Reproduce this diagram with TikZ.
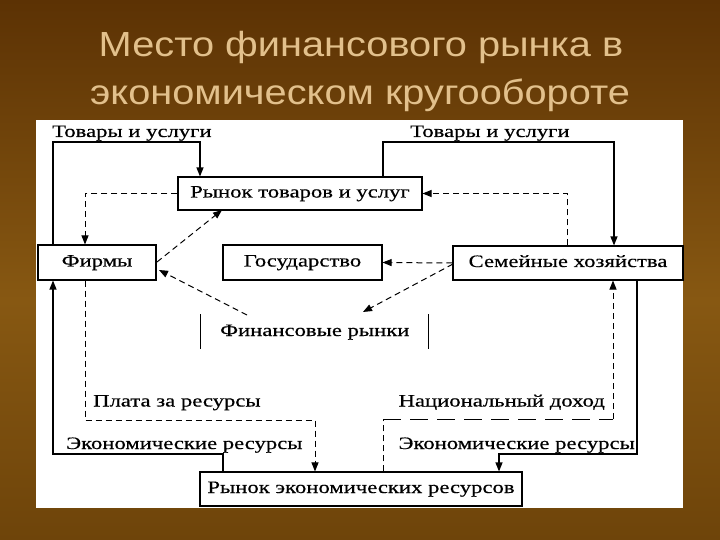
\documentclass[tikz,border=0pt]{standalone}
\usepackage{fontspec}
\setmainfont[FakeStretch=1.3,FakeBold=0.4]{Liberation Serif}
\newfontfamily\titlefont[FakeStretch=1.14]{Liberation Sans}
\usetikzlibrary{arrows.meta,calc}
\definecolor{bgtop}{RGB}{92,50,4}
\definecolor{bgmid}{RGB}{135,88,18}
\definecolor{bgbot}{RGB}{110,68,10}
\definecolor{titlecol}{RGB}{226,192,140}
\tikzset{
  box/.style={draw=black,line width=1.1bp,fill=white,inner sep=0pt,text height=12bp,text depth=4bp,font=\fontsize{17.5}{20}\selectfont},
  lbl/.style={inner sep=0pt,font=\fontsize{17.5}{20}\selectfont},
  ttl/.style={inner sep=0pt,text=titlecol,font=\titlefont\fontsize{35}{42}\selectfont},
  solidline/.style={line width=1.2bp},
  dashline/.style={line width=1bp,dash pattern=on 6bp off 4bp},
  longdash/.style={line width=1bp,dash pattern=on 18bp off 9bp},
  tip/.style={-{Triangle[length=9bp,width=7bp]}}
}
\begin{document}
\begin{tikzpicture}[x=1bp,y=-1bp]
\useasboundingbox (0,0) rectangle (720,540);
\shade[top color=bgtop,bottom color=bgmid] (0,0) rectangle (720,300);
\shade[top color=bgmid,bottom color=bgbot] (0,300) rectangle (720,540);
\node[ttl,anchor=base] (title1) at (361,57) {Место финансового рынка в};
\node[ttl,anchor=base] (title2) at (360,105) {экономическом кругообороте};
\fill[white] (36,120) rectangle (683,508);
% boxes
\node[box,minimum width=244bp,minimum height=33bp] (rt) at (300,193.5) {Рынок товаров и услуг};
\node[box,minimum width=118bp,minimum height=35bp] (firms) at (97,262.5) {Фирмы};
\node[box,minimum width=159bp,minimum height=35bp] (gos) at (302.5,262.5) {Государство};
\node[box,minimum width=230bp,minimum height=34bp] (sem) at (568,263) {Семейные хозяйства};
\node[box,minimum width=322bp,minimum height=34bp] (rr) at (361,489) {Рынок экономических ресурсов};
\node[lbl,anchor=base west] (fin) at (220,336) {Финансовые рынки};
\coordinate (fl1) at (200,314); \coordinate (fl2) at (200,349);
\coordinate (fr1) at (428,314); \coordinate (fr2) at (428,349);
\draw[line width=1bp] (fl1) -- (fl2);
\draw[line width=1bp] (fr1) -- (fr2);
% labels
\node[lbl,anchor=base west] (tu1) at (52,137) {Товары и услуги};
\node[lbl,anchor=base west] (tu2) at (410,137) {Товары и услуги};
\node[lbl,anchor=base west] (plata) at (93,406.5) {Плата за ресурсы};
\node[lbl,anchor=base east] (nd) at (605,406.5) {Национальный доход};
\node[lbl,anchor=base west] (er1) at (66,449) {Экономические ресурсы};
\node[lbl,anchor=base east] (er2) at (635,449) {Экономические ресурсы};
% top solid flows
\coordinate (a1) at (53,142); \coordinate (a2) at (200,142);
\draw[solidline,tip] (a1 |- firms.north) -- (a1) -- (a2) -- (a2 |- rt.north);
\coordinate (b1) at (383,142); \coordinate (b2) at (614,142);
\draw[solidline,tip] (b1 |- rt.north) -- (b1) -- (b2) -- (b2 |- sem.north);
% top dashed flows
\coordinate (d1) at (85,193.5);
\draw[dashline,tip] (rt.west) -- (d1) -- (d1 |- firms.north);
\coordinate (e1) at (567,193.5);
\draw[dashline,tip] (e1 |- sem.north) -- (e1) -- (rt.east);
% diagonals
\coordinate (g1) at (157,262); \coordinate (g2) at (222,210);
\draw[dashline,tip] (g1) -- (g2);
\coordinate (h1) at (247,315); \coordinate (h2) at (159,270);
\draw[dashline,tip] (h1) -- (h2);
\draw[dashline,tip] (sem.west) -- (gos.east);
\coordinate (k1) at (453,264); \coordinate (k2) at (363,312);
\draw[dashline,tip] (k1) -- (k2);
% bottom flows
\coordinate (m1) at (85,420); \coordinate (m2) at (315,420);
\draw[dashline,tip] (m1 |- firms.south) -- (m1) -- (m2) -- (m2 |- rr.north);
\coordinate (n1) at (223,454); \coordinate (n2) at (53,454);
\draw[solidline,tip] (n1 |- rr.north) -- (n1) -- (n2) -- (n2 |- firms.south);
\coordinate (p1) at (383,419); \coordinate (p2) at (613,419);
\draw[dashline] (p1 |- rr.north) -- (p1);
\draw[longdash] (p1) -- (p2);
\draw[dashline,tip] (p2) -- (p2 |- sem.south);
\coordinate (q1) at (637,454); \coordinate (q2) at (499,454);
\draw[solidline,tip] (q1 |- sem.south) -- (q1) -- (q2) -- (q2 |- rr.north);
\end{tikzpicture}
\end{document}
